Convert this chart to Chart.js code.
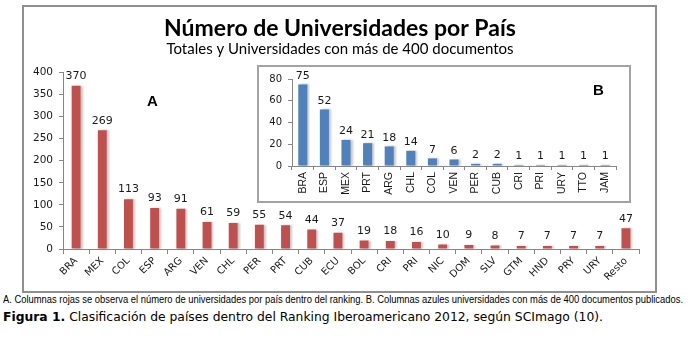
<!DOCTYPE html>
<html>
<head>
<meta charset="utf-8">
<script src="https://cdn.jsdelivr.net/npm/chart.js@4/dist/chart.umd.min.js"></script>
<style>
  body { margin: 0; background: #fff; width: 688px; height: 344px; position: relative; overflow: hidden; }
  #frame { position: absolute; left: 22px; top: 5px; width: 635px; height: 288px; border: 2px solid #8f8f8f; box-sizing: border-box; }
  #mainWrap { position: absolute; left: 24px; top: 7px; width: 631px; height: 284px; }
  #insetBox { position: absolute; left: 257px; top: 65px; width: 374px; height: 138px; border: 2px solid #a3a3a3; box-sizing: border-box; background: #fff; }
  #insetWrap { position: absolute; left: 259px; top: 67px; width: 370px; height: 134px; }
  .tag { position: absolute; font-family: "Liberation Sans", Arial, sans-serif; font-weight: bold; font-size: 15px; color: #000; }
  #note { position: absolute; left: 3px; top: 294px; white-space: nowrap; font-family: "Liberation Sans Narrow", "Liberation Sans", sans-serif; font-size: 10px; color: #000; transform-origin: left top; }
  #fig { position: absolute; left: 3px; top: 310px; white-space: nowrap; font-family: "DejaVu Sans", Verdana, sans-serif; font-size: 11.5px; color: #000; transform-origin: left top; }
</style>
</head>
<body>
<div id="frame"></div>
<div id="mainWrap"><canvas id="mainChart"></canvas></div>
<div id="insetBox"></div>
<div id="insetWrap"><canvas id="insetChart"></canvas></div>
<div class="tag" style="left:147px; top:92px;">A</div>
<div class="tag" style="left:593px; top:81px;">B</div>
<div id="note">A. Columnas rojas se observa el número de universidades por país dentro del ranking. B. Columnas azules universidades con más de 400 documentos publicados.</div>
<div id="fig"><b>Figura 1.</b> Clasificación de países dentro del Ranking Iberoamericano 2012, según SCImago (10).</div>

<script>
// A: total universities per country
const countriesA = ['BRA', 'MEX', 'COL', 'ESP', 'ARG', 'VEN', 'CHL', 'PER', 'PRT', 'CUB', 'ECU',
  'BOL', 'CRI', 'PRI', 'NIC', 'DOM', 'SLV', 'GTM', 'HND', 'PRY', 'URY', 'Resto'];
const totalsA = [370, 269, 113, 93, 91, 61, 59, 55, 54, 44, 37, 19, 18, 16, 10, 9, 8, 7, 7, 7, 7, 47];

// B: universities with more than 400 documents
const countriesB = ['BRA', 'ESP', 'MEX', 'PRT', 'ARG', 'CHL', 'COL', 'VEN', 'PER', 'CUB', 'CRI', 'PRI', 'URY', 'TTO', 'JAM'];
const over400B = [75, 52, 24, 21, 18, 14, 7, 6, 2, 2, 1, 1, 1, 1, 1];

const axisGray = '#868686';
const textColor = '#1a1a1a';

// soft excel-like shadow behind the bars
const barShadow = {
  id: 'barShadow',
  beforeDatasetsDraw(chart) {
    const c = chart.ctx;
    c.save();
    c.shadowColor = 'rgba(0,0,0,0.22)';
    c.shadowBlur = 2;
    c.shadowOffsetX = 2;
    c.shadowOffsetY = 0;
  },
  afterDatasetsDraw(chart) {
    chart.ctx.restore();
  }
};

// numbers above each bar
const valueLabels = {
  id: 'valueLabels',
  afterDatasetsDraw(chart, args, opts) {
    const ctx = chart.ctx;
    const values = chart.data.datasets[0].data;
    ctx.save();
    ctx.font = opts.font;
    ctx.fillStyle = opts.color;
    ctx.textAlign = 'center';
    ctx.textBaseline = 'bottom';
    chart.getDatasetMeta(0).data.forEach((bar, i) => {
      ctx.fillText(String(values[i]), bar.x, bar.y - opts.offset);
    });
    ctx.restore();
  }
};

// the frame is centred a bit right of the plot area: nudge title + subtitle over
const shiftTitles = {
  id: 'shiftTitles',
  afterLayout(chart, args, opts) {
    chart.boxes.forEach(b => {
      if (b.options && typeof b.options.text === 'string') {
        b.left += opts.dx;
        b.right += opts.dx;
      }
    });
  }
};

new Chart(document.getElementById('mainChart'), {
  type: 'bar',
  data: {
    labels: countriesA,
    datasets: [{
      data: totalsA,
      backgroundColor: '#c0504d',
      categoryPercentage: 1,
      barPercentage: 0.34
    }]
  },
  plugins: [barShadow, valueLabels, shiftTitles],
  options: {
    responsive: true,
    maintainAspectRatio: false,
    animation: false,
    layout: { padding: { left: 0, right: 16, top: 0, bottom: 0 } },
    plugins: {
      legend: { display: false },
      tooltip: { enabled: false },
      title: {
        display: true,
        text: 'Número de Universidades por País',
        color: '#000',
        font: { family: 'Lato', size: 23, weight: 'bold', lineHeight: 1.0 },
        padding: { top: 10, bottom: 1 }
      },
      subtitle: {
        display: true,
        text: 'Totales y Universidades con más de 400 documentos',
        color: '#000',
        font: { family: 'Lato', size: 15, lineHeight: 1.1 },
        padding: { top: 0, bottom: 15 }
      },
      shiftTitles: { dx: 8.5 },
      valueLabels: { font: '11px "DejaVu Sans"', color: textColor, offset: 4 }
    },
    scales: {
      x: {
        grid: { drawOnChartArea: false, drawTicks: true, tickLength: 5, color: axisGray },
        border: { color: axisGray },
        ticks: {
          autoSkip: false, minRotation: 45, maxRotation: 45, padding: 1,
          color: textColor, font: { family: 'DejaVu Sans', size: 10 }
        },
        afterFit(s) { s.height = 42; }
      },
      y: {
        min: 0,
        max: 400,
        grid: { drawOnChartArea: false, tickLength: 4, color: axisGray },
        border: { color: axisGray },
        ticks: { stepSize: 50, padding: 6, color: textColor, font: { family: 'DejaVu Sans', size: 10.5 } },
        afterFit(s) { s.width = 39; }
      }
    }
  }
});

new Chart(document.getElementById('insetChart'), {
  type: 'bar',
  data: {
    labels: countriesB,
    datasets: [{
      data: over400B,
      backgroundColor: '#4f81bd',
      categoryPercentage: 1,
      barPercentage: 0.42
    }]
  },
  plugins: [barShadow, valueLabels],
  options: {
    responsive: true,
    maintainAspectRatio: false,
    animation: false,
    layout: { padding: { left: 0, right: 13, top: 12, bottom: 0 } },
    plugins: {
      legend: { display: false },
      tooltip: { enabled: false },
      valueLabels: { font: '11px "DejaVu Sans"', color: textColor, offset: 3 }
    },
    scales: {
      x: {
        grid: { drawOnChartArea: false, tickLength: 4, color: axisGray },
        border: { color: axisGray },
        ticks: {
          autoSkip: false, minRotation: 90, maxRotation: 90, padding: 2,
          color: textColor, font: { family: 'Liberation Sans', size: 10.5 }
        },
        afterFit(s) { s.height = 35; }
      },
      y: {
        min: 0,
        max: 80,
        grid: { drawOnChartArea: false, tickLength: 4, color: axisGray },
        border: { color: axisGray },
        ticks: { stepSize: 20, padding: 6, color: textColor, font: { family: 'DejaVu Sans', size: 10 } },
        afterFit(s) { s.width = 33; }
      }
    }
  }
});

// squeeze the caption lines to the width they take in the figure
function fitWidth(id, target) {
  const el = document.getElementById(id);
  const w = el.getBoundingClientRect().width;
  el.style.transform = 'scaleX(' + (target / w) + ')';
}
fitWidth('note', 680);
fitWidth('fig', 600);
</script>
</body>
</html>
